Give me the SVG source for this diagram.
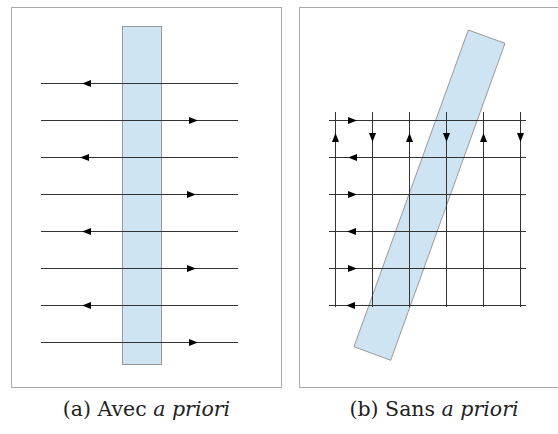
<svg xmlns="http://www.w3.org/2000/svg" width="558" height="434" viewBox="0 0 558 434">
<style>
.frame{fill:#fff;stroke:#aaa;stroke-width:1}
.band{fill:#cfe4f2;stroke:#999;stroke-width:1}
.ln{stroke:#333;stroke-width:1;fill:none}
.ah{fill:#000}
.cap{font-family:"DejaVu Serif","Liberation Serif",serif;font-size:20.5px;fill:#222}
</style>
<defs>
<path id="ah" d="M0,0 L-9,-3.5 L-9,3.5 Z"/>
</defs>
<rect width="558" height="434" fill="#fff"/>
<g id="panel-a">
<rect class="frame" x="11.5" y="7.5" width="270" height="380"/>
<rect class="band" x="122.5" y="26.5" width="39" height="338"/>
</g>
<g id="connectors-a">
<g class="ln">
<path d="M41,83.5H238M41,120.5H238M41,157.5H238M41,194.5H238M41,231.5H238M41,268.5H238M41,305.5H238M41,342.5H238"/>
</g>
<g class="ah">
<use href="#ah" transform="translate(82,83.5) rotate(180)"/>
<use href="#ah" transform="translate(198,120.5)"/>
<use href="#ah" transform="translate(80,157.5) rotate(180)"/>
<use href="#ah" transform="translate(196,194.5)"/>
<use href="#ah" transform="translate(82,231.5) rotate(180)"/>
<use href="#ah" transform="translate(196,268.5)"/>
<use href="#ah" transform="translate(82,305.5) rotate(180)"/>
<use href="#ah" transform="translate(198,342.5)"/>
</g>
</g>
<g id="panel-b">
<rect class="frame" x="299.5" y="7.5" width="270" height="380"/>
<polygon class="band" points="468.3,30 505,43.3 390.7,360.3 354,346.7"/>
</g>
<g id="connectors-b">
<g class="ln">
<path d="M329,120.5H526M329,157.5H526M329,194.5H526M329,231.5H526M329,268.5H526M329,305.5H526"/>
<path d="M335.5,112V307M372.5,112V307M409.5,112V307M446.5,112V307M483.5,112V307M520.5,112V307"/>
</g>
<g class="ah">
<use href="#ah" transform="translate(357,120.5)"/>
<use href="#ah" transform="translate(348,157.5) rotate(180)"/>
<use href="#ah" transform="translate(357,194.5)"/>
<use href="#ah" transform="translate(347,231.5) rotate(180)"/>
<use href="#ah" transform="translate(357,268.5)"/>
<use href="#ah" transform="translate(346,305.5) rotate(180)"/>
<use href="#ah" transform="translate(335.5,133) rotate(-90)"/>
<use href="#ah" transform="translate(372.5,142) rotate(90)"/>
<use href="#ah" transform="translate(409.5,133) rotate(-90)"/>
<use href="#ah" transform="translate(446.5,142) rotate(90)"/>
<use href="#ah" transform="translate(483.5,133) rotate(-90)"/>
<use href="#ah" transform="translate(520.5,142) rotate(90)"/>
</g>
</g>
<g id="captions">
<text class="cap" x="146.5" y="416" text-anchor="middle">(a) Avec <tspan font-style="italic">a priori</tspan></text>
<text class="cap" x="434" y="416" text-anchor="middle">(b) Sans <tspan font-style="italic">a priori</tspan></text>
</g>
</svg>
